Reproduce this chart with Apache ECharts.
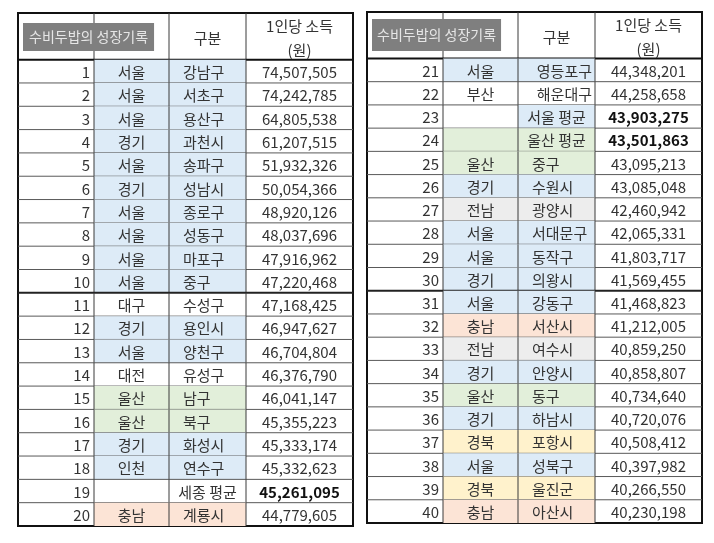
<!DOCTYPE html>
<html>
<head>
<meta charset="utf-8">
<script src="https://cdn.jsdelivr.net/npm/echarts@6/dist/echarts.min.js"></script>
<style>
  html, body { margin: 0; background: #fff; }
  #main { width: 714px; height: 543px; }
</style>
</head>
<body>
<div id="main"></div>
<script>
// 순위별 데이터 (1 ~ 40위)
const ranks = [
  1, 2, 3, 4, 5, 6, 7, 8, 9, 10, 11, 12, 13, 14, 15, 16, 17, 18, 19, 20,
  21, 22, 23, 24, 25, 26, 27, 28, 29, 30, 31, 32, 33, 34, 35, 36, 37, 38, 39, 40
]
const regions = [
  '서울', '서울', '서울', '경기', '서울', '경기', '서울', '서울', '서울', '서울',
  '대구', '경기', '서울', '대전', '울산', '울산', '경기', '인천', '', '충남',
  '서울', '부산', '', '', '울산', '경기', '전남', '서울', '서울', '경기',
  '서울', '충남', '전남', '경기', '울산', '경기', '경북', '서울', '경북', '충남'
]
const districts = [
  '강남구', '서초구', '용산구', '과천시', '송파구', '성남시', '종로구', '성동구', '마포구', '중구',
  '수성구', '용인시', '양천구', '유성구', '남구', '북구', '화성시', '연수구', '세종 평균', '계룡시',
  '영등포구', '해운대구', '서울 평균', '울산 평균', '중구', '수원시', '광양시', '서대문구', '동작구', '의왕시',
  '강동구', '서산시', '여수시', '안양시', '동구', '하남시', '포항시', '성북구', '울진군', '아산시'
]
const incomes = [
  74507505, 74242785, 64805538, 61207515, 51932326, 50054366, 48920126, 48037696, 47916962, 47220468,
  47168425, 46947627, 46704804, 46376790, 46041147, 45355223, 45333174, 45332623, 45261095, 44779605,
  44348201, 44258658, 43903275, 43501863, 43095213, 43085048, 42460942, 42065331, 41803717, 41569455,
  41468823, 41212005, 40859250, 40858807, 40734640, 40720076, 40508412, 40397982, 40266550, 40230198
]
// 지역/구분 칸 배경 (b 파랑, g 초록, o 주황, s 회색, y 노랑, w 흰색)
const shades = [
  'bb', 'bb', 'bb', 'bb', 'bb', 'bb', 'bb', 'bb', 'bb', 'bb',
  'ww', 'bb', 'bb', 'ww', 'gg', 'gg', 'bb', 'bb', 'ww', 'oo',
  'bb', 'ww', 'wb', 'gg', 'gg', 'bb', 'ss', 'bb', 'bb', 'bb',
  'bb', 'oo', 'ss', 'bb', 'gg', 'bb', 'yy', 'bb', 'yy', 'oo'
]
const averageRanks = [19, 23, 24]
const districtAlign = { 19: 'c', 21: 'r', 22: 'r', 23: 'c', 24: 'c' }
const thickAfter = [10, 30]
const headers = ['구분', '1인당 소득\n(원)']
const tableTitle = '수비두밥의 성장기록'

const FONT = '"Noto Sans CJK KR", "Noto Sans", sans-serif'
const TEXT = '#333'
const fills = { b: '#DDEBF7', g: '#E2EFDA', o: '#FCE4D6', s: '#EDEDED', y: '#FFF2CC', w: null }
const colEdges = [0, 76, 151, 228, 335]
const slots = ['h0', 'h1'].concat(Array.from({ length: 20 }, (_, i) => 'r' + i))

const chart = echarts.init(document.getElementById('main'))

function txt(x, y, text, align, bold) {
  return {
    type: 'text',
    style: {
      x: x, y: y, text: text,
      align: align, verticalAlign: 'middle',
      fontFamily: FONT, fontSize: 15, lineHeight: 24,
      fontWeight: bold ? 'bold' : 'normal',
      fill: bold ? '#111' : TEXT
    }
  }
}

function hLine(x1, x2, y, w, color) {
  return { type: 'line', shape: { x1: x1, y1: y, x2: x2, y2: y }, style: { stroke: color, lineWidth: w } }
}

function renderRow(params, api) {
  const slot = api.value(1)
  const idx = api.value(2)
  const h = api.size([0, 1])[1]
  const xs = colEdges.map(e => api.coord([e, slot])[0])
  const yc = api.coord([0, slot])[1]
  const top = yc - h / 2
  const children = []

  if (idx < 0) {
    // 헤더 (두 칸 높이)
    const bottom = top + h * 2
    const mid = (top + bottom) / 2 + 2
    children.push(txt((xs[2] + xs[3]) / 2, mid, headers[0], 'center'))
    children.push(txt((xs[3] + xs[4]) / 2, mid, headers[1], 'center'))
    for (let c = 1; c < 4; c++) {
      children.push({ type: 'line', shape: { x1: xs[c], y1: top, x2: xs[c], y2: bottom }, style: { stroke: '#3a3a3a', lineWidth: 1 } })
    }
    children.push(hLine(xs[0], xs[4], bottom, 2, '#111'))
    return { type: 'group', children: children }
  }

  const bottom = top + h
  const ty = yc + 1
  const rank = ranks[idx]
  const shade = shades[idx]
  const bold = averageRanks.indexOf(rank) >= 0
  for (let c = 0; c < 2; c++) {
    const f = fills[shade[c]]
    if (f) {
      children.push({ type: 'rect', shape: { x: xs[c + 1], y: top, width: xs[c + 2] - xs[c + 1], height: h }, style: { fill: f } })
    }
  }
  children.push(txt(xs[1] - 4, ty, String(rank), 'right'))
  children.push(txt((xs[1] + xs[2]) / 2, ty, regions[idx], 'center'))
  const al = districtAlign[rank] || 'l'
  if (al === 'c') children.push(txt((xs[2] + xs[3]) / 2, ty, districts[idx], 'center'))
  else if (al === 'r') children.push(txt(xs[3] - 3, ty, districts[idx], 'right'))
  else children.push(txt(xs[2] + 14, ty, districts[idx], 'left'))
  children.push(txt((xs[3] + xs[4]) / 2, ty, incomes[idx].toLocaleString('en-US'), 'center', bold))

  for (let c = 1; c < 4; c++) {
    children.push({ type: 'line', shape: { x1: xs[c], y1: top, x2: xs[c], y2: bottom }, style: { stroke: '#3a3a3a', lineWidth: 1 } })
  }
  if (rank % 20 !== 0) {
    if (thickAfter.indexOf(rank) >= 0) children.push(hLine(xs[0], xs[4], bottom, 2, '#222'))
    else children.push(hLine(xs[0], xs[4], bottom, 1, '#595959'))
  }
  return { type: 'group', children: children }
}

function tableData(part) {
  const rows = [[0, 0, -1]]
  for (let i = 0; i < 20; i++) rows.push([0, i + 2, part * 20 + i])
  return rows
}

const gridBox = [
  { left: 18, top: 13, width: 335, height: 513 },
  { left: 367, top: 12, width: 335, height: 511 }
]

const titleText = { color: '#e6e6e6', fontFamily: FONT, fontSize: 14, fontWeight: 'normal', lineHeight: 14 }

const option = {
  backgroundColor: '#fff',
  animation: false,
  title: [
    { text: tableTitle, left: 23, top: 23, padding: [7, 6], backgroundColor: '#7f7f7f', textStyle: titleText },
    { text: tableTitle, left: 372, top: 19, padding: [9, 5], backgroundColor: '#7f7f7f', textStyle: titleText }
  ],
  grid: gridBox.map(g => Object.assign({ show: true, borderColor: '#111', borderWidth: 2, backgroundColor: '#fff', outerBoundsMode: 'none' }, g)),
  xAxis: [0, 1].map(i => ({ type: 'value', gridIndex: i, min: 0, max: 335, show: false })),
  yAxis: [0, 1].map(i => ({ type: 'category', gridIndex: i, data: slots, inverse: true, show: false })),
  series: [0, 1].map(i => ({
    type: 'custom',
    xAxisIndex: i,
    yAxisIndex: i,
    encode: { x: 0, y: 1 },
    renderItem: renderRow,
    data: tableData(i),
    z: 2
  }))
}

chart.setOption(option)
</script>
</body>
</html>
